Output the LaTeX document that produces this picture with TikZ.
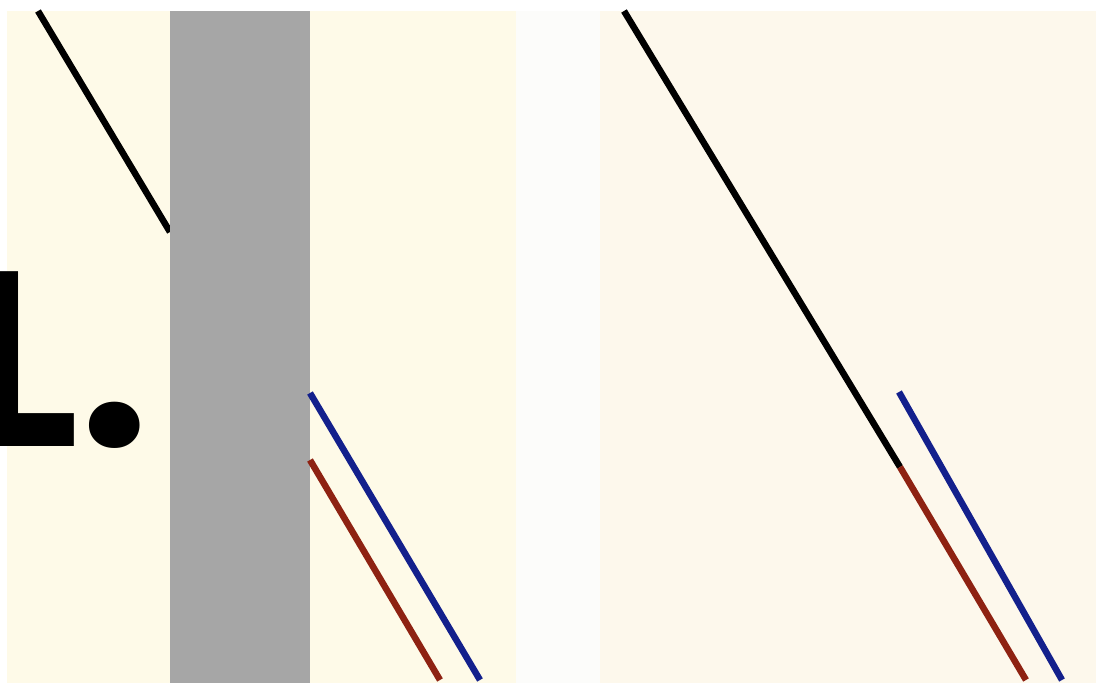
\documentclass[tikz,border=0pt]{standalone}
\usepackage{fontspec}
\newfontfamily\headfont{Poppins}[UprightFont=* Bold]
\usepackage{xcolor}
\definecolor{creamL}{HTML}{FEFAE8}
\definecolor{creamR}{HTML}{FDF8EC}
\definecolor{gapwhite}{HTML}{FCFCFA}
\definecolor{band}{HTML}{A6A6A6}
\definecolor{rayblue}{HTML}{13208C}
\definecolor{rayred}{HTML}{8E2212}
\begin{document}
\begin{tikzpicture}[
    x=1bp, y=-1bp,
    panel/.style={draw=none},
    ray/.style={line width=6.5bp},
    label/.style={font=\headfont\fontsize{250}{250}\selectfont, inner sep=0pt, anchor=base west}
]
\useasboundingbox (0,0) rectangle (1096,683);
\fill[white] (0,0) rectangle (1096,683);
% left panel with the covering band
\fill[panel, creamL] (7,11) rectangle (516,683);
\fill[panel, gapwhite] (516,11) rectangle (600,683);
\fill[panel, creamR] (600,11) rectangle (1096,683);
\node[label] (num) at (-40,446) {L.};
\draw[ray, black] (38,11) -- (170,232);
\fill[panel, band] (170,11) rectangle (310,683);
\draw[ray, rayblue] (310,393) -- (480,680);
\draw[ray, rayred] (310,460) -- (440,680);
% right panel, band removed
\draw[ray, black] (624,11) -- (900,467);
\draw[ray, rayred] (900,467) -- (1026,680);
\draw[ray, rayblue] (899,392) -- (1062,680);
\end{tikzpicture}
\end{document}
